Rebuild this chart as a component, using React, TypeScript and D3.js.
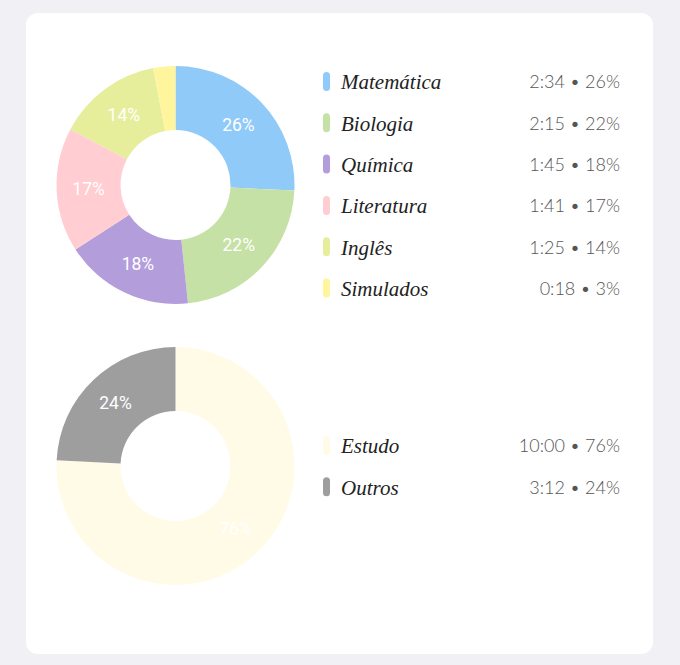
import React from "react";
import * as d3 from "d3";

// subjects (minutes studied)
const subjects = ["Matemática", "Biologia", "Química", "Literatura", "Inglês", "Simulados"];
const subjectMinutes = [154, 135, 105, 101, 85, 18];
const subjectPct = ["26%", "22%", "18%", "17%", "14%", "3%"];
const subjectColors = ["#90caf9", "#c5e1a5", "#b39ddb", "#ffcdd2", "#e6ee9c", "#fff59d"];

// study vs other
const totals = ["Estudo", "Outros"];
const totalMinutes = [600, 192];
const totalPct = ["76%", "24%"];
const totalColors = ["#fffbe7", "#9e9e9e"];

const W = 680;
const H = 665;
const outerR = 119;
const innerR = 55;

const fmtTime = (m: number) => `${Math.floor(m / 60)}:${d3.format("02d")(m % 60)}`;

type DonutProps = {
    cx: number
    cy: number
    names: string[]
    values: number[]
    pct: string[]
    colors: string[]
}

function Donut(props: DonutProps) {
    const pie = d3.pie<number>().sort(null).value(d => d)
    const arcs = pie(props.values)
    const arc = d3.arc<d3.PieArcDatum<number>>().innerRadius(innerR).outerRadius(outerR)

    return (
        <g transform={`translate(${props.cx},${props.cy})`}>
            {arcs.map((a, i) => (
                <path key={props.names[i]} d={arc(a) || ""} fill={props.colors[i]} />
            ))}
            {arcs.map((a, i) => {
                // tiny slices get no label
                if (a.endAngle - a.startAngle < 0.4) return null
                const [x, y] = arc.centroid(a)
                return (
                    <text key={"l" + i} x={x} y={y} dy="0.35em" textAnchor="middle"
                          fill="#fff" fontFamily="Roboto, sans-serif" fontSize={17.5}>
                        {props.pct[i]}
                    </text>
                )
            })}
        </g>
    )
}

type LegendProps = {
    y: number
    names: string[]
    values: number[]
    pct: string[]
    colors: string[]
}

function Legend(props: LegendProps) {
    const y = d3.scalePoint<string>().domain(props.names).range([0, (props.names.length - 1) * 41.3])
    return (
        <g transform={`translate(0,${props.y})`}>
            {props.names.map((n, i) => (
                <g key={n} transform={`translate(0,${y(n)})`}>
                    <rect x={323} y={-10} width={7} height={19} rx={3.5} fill={props.colors[i]} />
                    <text x={341} y={0} dy="0.35em" fontFamily="'Liberation Serif', serif"
                          fontStyle="italic" fontSize={21} fill="#222">{n}</text>
                    <text x={620} y={0} dy="0.35em" textAnchor="end" fontFamily="Lato, sans-serif"
                          fontWeight={300} fontSize={18} fill="#555">
                        {fmtTime(props.values[i])} • {props.pct[i]}
                    </text>
                </g>
            ))}
        </g>
    )
}

export default function App() {
    return (
        <svg width={W} height={H} style={{position: "absolute", left: 0, top: 0}}>
            <rect width={W} height={H} fill="#f1f0f5" />
            <rect x={26} y={13} width={627} height={641} rx={12} fill="#fff" />
            <Donut cx={175.5} cy={185} names={subjects} values={subjectMinutes}
                   pct={subjectPct} colors={subjectColors} />
            <Legend y={82} names={subjects} values={subjectMinutes} pct={subjectPct} colors={subjectColors} />
            <Donut cx={175.5} cy={466} names={totals} values={totalMinutes}
                   pct={totalPct} colors={totalColors} />
            <Legend y={446} names={totals} values={totalMinutes} pct={totalPct} colors={totalColors} />
        </svg>
    )
}
